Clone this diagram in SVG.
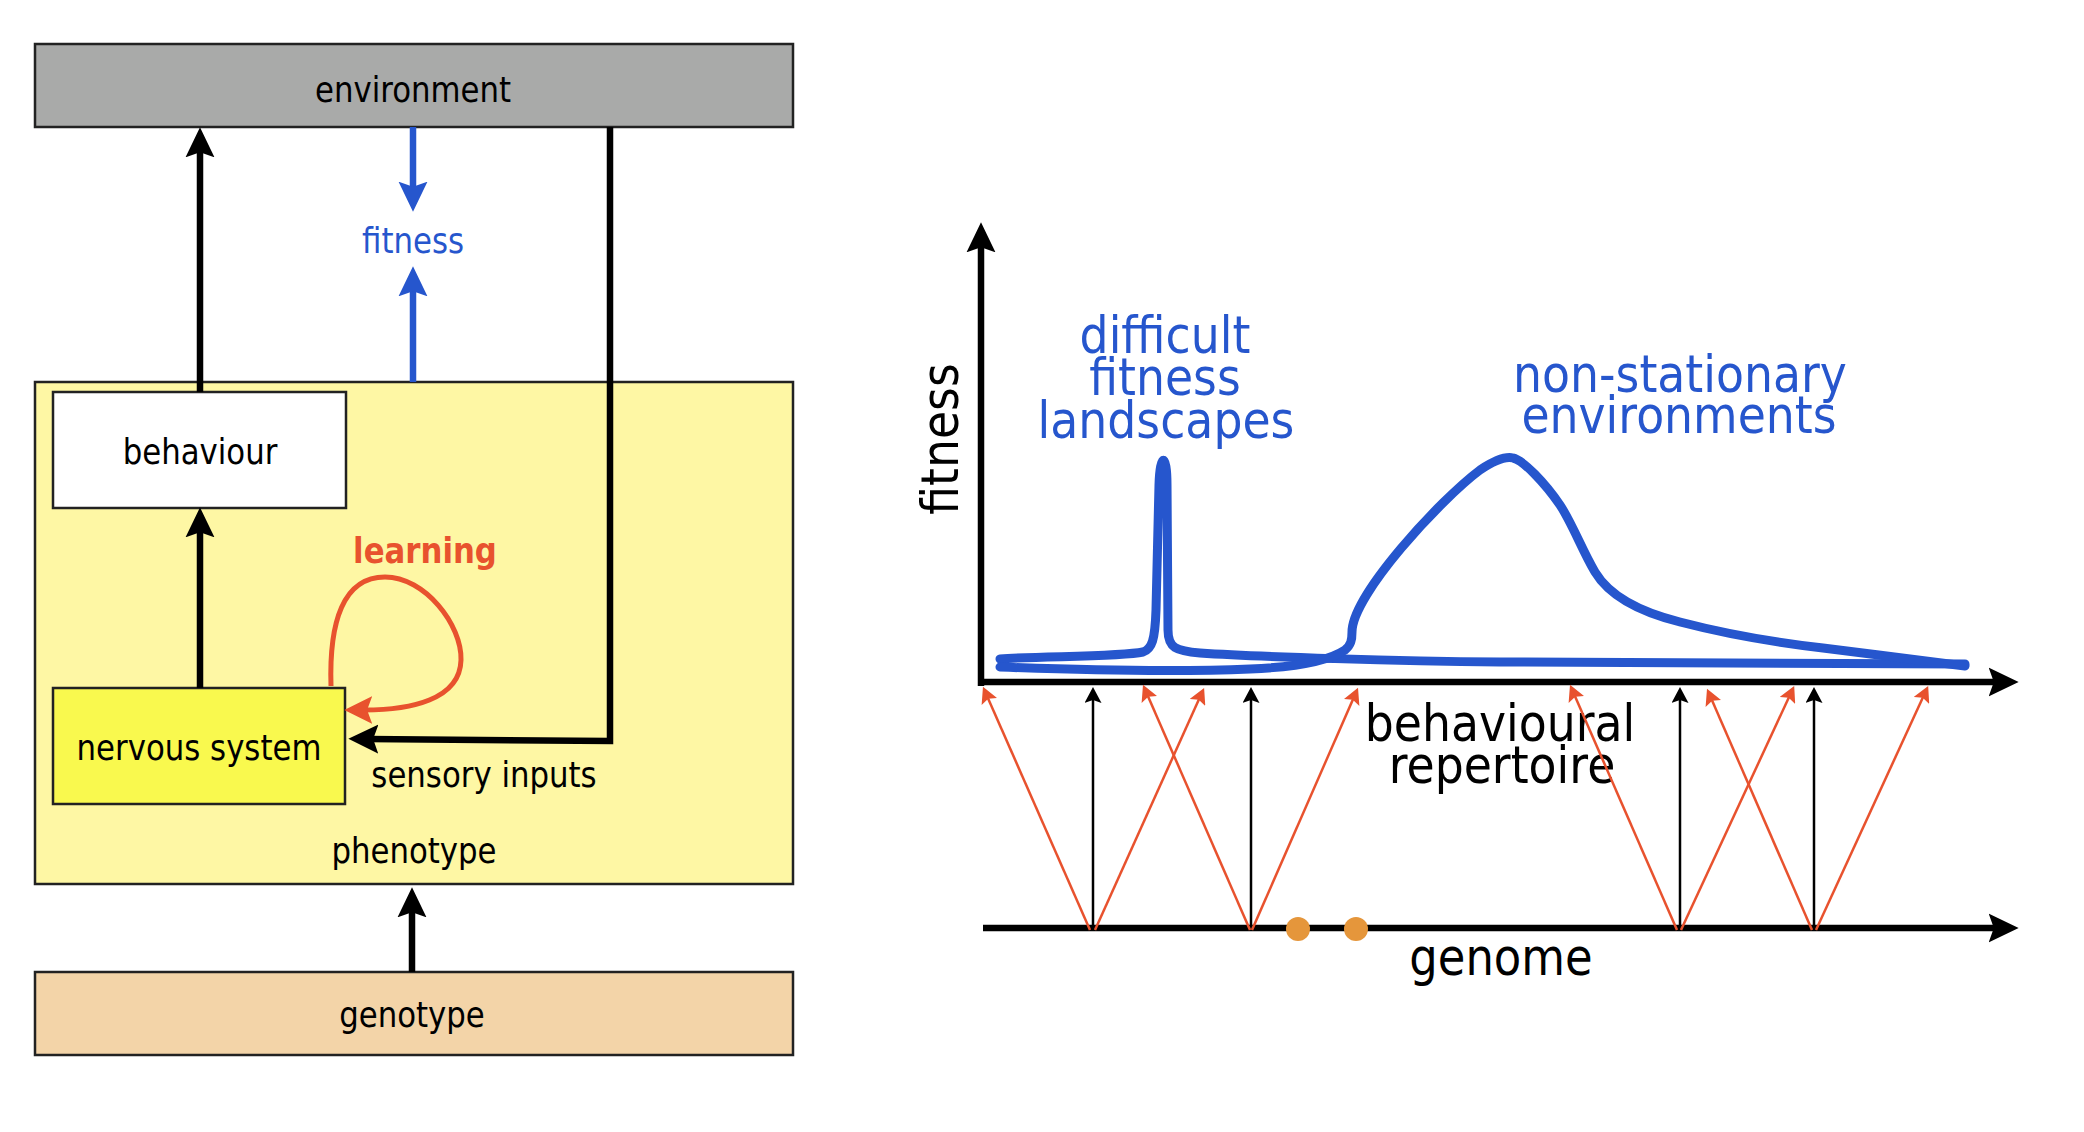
<svg xmlns="http://www.w3.org/2000/svg" width="2084" height="1132" viewBox="0 0 2084 1132">
<style>
  text { font-family: "DejaVu Sans", Verdana, sans-serif; text-anchor: middle; }
  .s35 { font-size: 35px; fill: #000; }
  .blue { fill: #2656cd; }
  .red { fill: #e8522e; font-weight: bold; }
  .big { font-size: 52px; }
  .box { stroke: #222; stroke-width: 2.5; }
  .thick { stroke: #000; stroke-width: 6.5; fill: none; }
  .bthick { stroke: #2656cd; stroke-width: 6.5; fill: none; }
  .thin { stroke: #000; stroke-width: 2.5; fill: none; }
  .rthin { stroke: #e8522e; stroke-width: 2.5; fill: none; }
  .curve { stroke: #2656cd; stroke-width: 9; fill: none; stroke-linecap: round; stroke-linejoin: round; }
</style>
<defs>
  <marker id="ahBlack" markerUnits="userSpaceOnUse" markerWidth="30" markerHeight="30" viewBox="0 0 29 28" refX="10" refY="14" orient="auto">
    <path d="M29,14 L0,0 L5,14 L0,28 Z" fill="#000"/>
  </marker>
  <marker id="ahBlue" markerUnits="userSpaceOnUse" markerWidth="30" markerHeight="30" viewBox="0 0 29 28" refX="10" refY="14" orient="auto">
    <path d="M29,14 L0,0 L5,14 L0,28 Z" fill="#2656cd"/>
  </marker>
  <marker id="ahRedBig" markerUnits="userSpaceOnUse" markerWidth="28" markerHeight="28" viewBox="0 0 27 27" refX="8" refY="13.5" orient="auto">
    <path d="M27,13.5 L0,0 L5,13.5 L0,27 Z" fill="#e8522e"/>
  </marker>
  <marker id="ahSmallBlack" markerUnits="userSpaceOnUse" markerWidth="17" markerHeight="17" viewBox="0 0 16 17" refX="6" refY="8.5" orient="auto">
    <path d="M16,8.5 L0,0 L3,8.5 L0,17 Z" fill="#000"/>
  </marker>
  <marker id="ahSmallRed" markerUnits="userSpaceOnUse" markerWidth="17" markerHeight="17" viewBox="0 0 16 17" refX="6" refY="8.5" orient="auto">
    <path d="M16,8.5 L0,0 L3,8.5 L0,17 Z" fill="#e8522e"/>
  </marker>
</defs>

<!-- LEFT PANEL NODES -->
<g id="environment">
  <rect class="box" x="35" y="44" width="758" height="83" fill="#a9aaa9"/>
  <text class="s35" transform="translate(413,102) scale(0.88,1)">environment</text>
</g>
<g id="phenotype">
  <rect class="box" x="35" y="382" width="758" height="502" fill="#fef7a4"/>
  <text class="s35" transform="translate(414,863) scale(0.88,1)">phenotype</text>
</g>
<g id="behaviour">
  <rect class="box" x="53" y="392" width="293" height="116" fill="#ffffff"/>
  <text class="s35" transform="translate(200,464) scale(0.88,1)">behaviour</text>
</g>
<g id="nervous-system">
  <rect class="box" x="53" y="688" width="292" height="116" fill="#f9f94e"/>
  <text class="s35" transform="translate(199,760) scale(0.88,1)">nervous system</text>
</g>
<g id="genotype">
  <rect class="box" x="35" y="972" width="758" height="83" fill="#f3d4a8"/>
  <text class="s35" transform="translate(412,1027) scale(0.88,1)">genotype</text>
</g>
<g id="fitness-label">
  <text class="s35 blue" transform="translate(413,253) scale(0.88,1)">fitness</text>
</g>
<g id="learning-label">
  <text class="s35 red" transform="translate(425,563) scale(0.88,1)">learning</text>
</g>
<g id="sensory-label">
  <text class="s35" transform="translate(484,787) scale(0.88,1)">sensory inputs</text>
</g>

<!-- LEFT PANEL CONNECTORS -->
<g id="connectors-left">
  <line class="thick" x1="200" y1="392" x2="200" y2="147" marker-end="url(#ahBlack)"/>
  <line class="thick" x1="200" y1="688" x2="200" y2="527" marker-end="url(#ahBlack)"/>
  <line class="bthick" x1="413" y1="127" x2="413" y2="192" marker-end="url(#ahBlue)"/>
  <line class="bthick" x1="413" y1="382" x2="413" y2="286" marker-end="url(#ahBlue)"/>
  <line class="thick" x1="412" y1="972" x2="412" y2="907" marker-end="url(#ahBlack)"/>
  <path class="thick" d="M610,127 L610,741 L368,739" stroke-linejoin="miter" marker-end="url(#ahBlack)"/>
  <path d="M331,686 C329,622 343,577 385,577 C425,577 462,625 461,660 C460,700 410,710 364,710" stroke="#e8522e" stroke-width="5" fill="none" marker-end="url(#ahRedBig)"/>
</g>

<!-- RIGHT PANEL -->
<g id="axes">
  <line class="thick" x1="981" y1="686" x2="981" y2="242" marker-end="url(#ahBlack)"/>
  <line class="thick" x1="978" y1="682" x2="1999" y2="682" marker-end="url(#ahBlack)"/>
  <line class="thick" x1="983" y1="928" x2="1999" y2="928" marker-end="url(#ahBlack)"/>
</g>
<g id="axis-labels">
  <text class="big" transform="translate(958,439) rotate(-90) scale(0.88,1)">fitness</text>
  <text class="big" transform="translate(1500,741) scale(0.88,1)">behavioural</text>
  <text class="big" transform="translate(1502,783) scale(0.88,1)">repertoire</text>
  <text class="big" transform="translate(1501,975) scale(0.88,1)" style="font-size:51px">genome</text>
</g>
<g id="landscape-curves">
  <path class="curve" d="M1000,659 C1040,656 1120,657 1143,652 C1152,649 1155,640 1156,610 L1159,485 C1160,452 1167,452 1167,485 L1168,630 C1168,648 1176,651 1200,653 C1260,657 1400,661 1500,662 L1965,664"/>
  <path class="curve" d="M1000,667 C1080,670 1180,672 1250,669 C1300,667 1330,660 1345,650 C1351,645 1352,640 1352,632 C1352,595 1440,500 1480,470 C1495,460 1505,456 1513,458 C1523,460 1545,483 1560,505 C1572,523 1582,550 1595,572 C1610,597 1640,612 1680,622 C1730,635 1780,643 1823,648 C1870,654 1920,660 1965,666"/>
</g>
<g id="landscape-labels">
  <text class="big blue" transform="translate(1165,353) scale(0.88,1)">difficult</text>
  <text class="big blue" transform="translate(1165,395) scale(0.88,1)">fitness</text>
  <text class="big blue" transform="translate(1166,438) scale(0.88,1)">landscapes</text>
  <text class="big blue" transform="translate(1680,392) scale(0.88,1)">non-stationary</text>
  <text class="big blue" transform="translate(1679,433) scale(0.88,1)">environments</text>
</g>
<g id="genome-dots">
  <circle cx="1298" cy="929" r="12" fill="#e5963b"/>
  <circle cx="1356" cy="929" r="12" fill="#e5963b"/>
</g>
<g id="connectors-right">
  <line class="thin" x1="1093" y1="928" x2="1093" y2="697" marker-end="url(#ahSmallBlack)"/>
  <line class="thin" x1="1251" y1="928" x2="1251" y2="697" marker-end="url(#ahSmallBlack)"/>
  <line class="thin" x1="1680" y1="928" x2="1680" y2="697" marker-end="url(#ahSmallBlack)"/>
  <line class="thin" x1="1814" y1="928" x2="1814" y2="697" marker-end="url(#ahSmallBlack)"/>
  <line class="rthin" x1="1090" y1="930" x2="987" y2="696" marker-end="url(#ahSmallRed)"/>
  <line class="rthin" x1="1095" y1="930" x2="1200" y2="697" marker-end="url(#ahSmallRed)"/>
  <line class="rthin" x1="1250" y1="930" x2="1147" y2="694" marker-end="url(#ahSmallRed)"/>
  <line class="rthin" x1="1252" y1="930" x2="1354" y2="697" marker-end="url(#ahSmallRed)"/>
  <line class="rthin" x1="1677" y1="930" x2="1574" y2="694" marker-end="url(#ahSmallRed)"/>
  <line class="rthin" x1="1681" y1="930" x2="1790" y2="695" marker-end="url(#ahSmallRed)"/>
  <line class="rthin" x1="1812" y1="930" x2="1711" y2="698" marker-end="url(#ahSmallRed)"/>
  <line class="rthin" x1="1816" y1="930" x2="1924" y2="695" marker-end="url(#ahSmallRed)"/>
</g>
</svg>
